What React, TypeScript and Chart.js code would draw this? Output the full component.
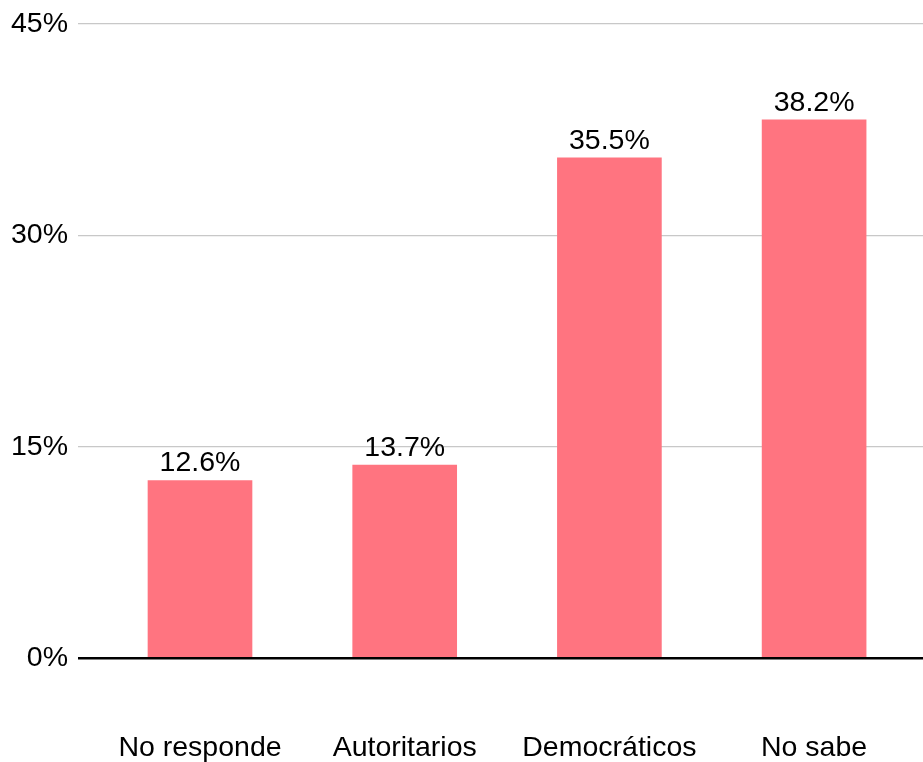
import React, { useEffect, useRef } from "react";
import { Chart, registerables } from "chart.js";

Chart.register(...registerables);

const categories = ["No responde", "Autoritarios", "Democráticos", "No sabe"];
const values = [12.6, 13.7, 35.5, 38.2];
const yTicks = [0, 15, 30, 45];

const FONT = "'Liberation Sans', Arial, sans-serif";
const FS = 28.5;

export default function App() {
  const ref = useRef<HTMLCanvasElement | null>(null);
  useEffect(() => {
    if (!ref.current) return;
    const labelPlugin = {
      id: "barLabels",
      afterDatasetsDraw(chart: any) {
        const ctx = chart.ctx;
        const meta = chart.getDatasetMeta(0);
        ctx.save();
        ctx.font = `${FS}px ${FONT}`;
        ctx.fillStyle = "#000";
        ctx.textAlign = "center";
        ctx.textBaseline = "alphabetic";
        meta.data.forEach((bar: any, i: number) => {
          ctx.fillText(values[i].toFixed(1) + "%", bar.x, bar.y - 9);
        });
        ctx.restore();
      },
    };
    const chart = new Chart(ref.current, {
      type: "bar",
      data: {
        datasets: [
          {
            data: values.map((v, i) => ({ x: i, y: v })),
            backgroundColor: "#FF7480",
            barThickness: 104,
          },
        ],
      },
      options: {
        animation: false,
        responsive: false,
        maintainAspectRatio: false,
        layout: { padding: { top: 24, right: 0, left: 0, bottom: 0 } },
        plugins: { legend: { display: false }, tooltip: { enabled: false } },
        scales: {
          x: {
            type: "linear",
            offset: false,
            min: -0.596,
            max: 3.532,
            grid: { display: false, drawTicks: false, offset: false },
            border: { display: false },
            afterBuildTicks: (scale: any) => {
              scale.ticks = categories.map((_, i) => ({ value: i }));
            },
            afterFit: (scale: any) => {
              scale.height = 104;
              scale.paddingLeft = 0;
              scale.paddingRight = 0;
            },
            ticks: {
              autoSkip: false,
              maxRotation: 0,
              padding: 73,
              color: "#000",
              font: { family: FONT, size: FS },
              callback: (v: any) => categories[v] ?? "",
            },
          },
          y: {
            min: 0,
            max: 45,
            afterBuildTicks: (scale: any) => {
              scale.ticks = yTicks.map((v) => ({ value: v }));
            },
            afterFit: (scale: any) => {
              scale.width = 78;
              scale.paddingTop = 0;
              scale.paddingBottom = 0;
            },
            grid: {
              drawTicks: false,
              color: (c: any) => (c.tick && c.tick.value === 0 ? "#000" : "#c8c8c8"),
              lineWidth: (c: any) => (c.tick && c.tick.value === 0 ? 2.5 : 1.2),
            },
            border: { display: false },
            ticks: {
              padding: 10,
              color: "#000",
              font: { family: FONT, size: FS },
              callback: (v: any) => v + "%",
            },
          },
        },
      },
      plugins: [labelPlugin],
    });
    return () => chart.destroy();
  }, []);
  return (
    <div style={{ position: "absolute", left: 0, top: 0, width: 923, height: 762, background: "#fff" }}>
      <canvas ref={ref} width={923} height={762} style={{ width: 923, height: 762 }} />
    </div>
  );
}
